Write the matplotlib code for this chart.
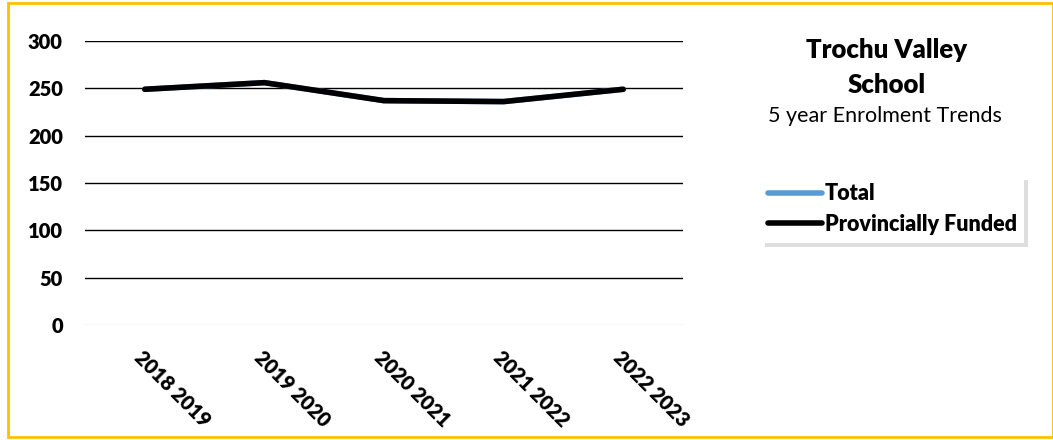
import matplotlib
matplotlib.use("Agg")
import matplotlib.pyplot as plt
from matplotlib.patches import Rectangle

years = ['2018 2019', '2019 2020', '2020 2021', '2021 2022', '2022 2023']
total = [249, 256, 237, 236, 249]
funded = [249, 256, 237, 236, 249]

plt.rcParams['font.family'] = ['Lato', 'DejaVu Sans']
BOLD = 'heavy'

fig = plt.figure(figsize=(10.53, 4.4), dpi=100)
ax = fig.add_axes([85 / 1053, 1 - 325 / 440, 598 / 1053, 284 / 440])

x = range(len(years))
ax.plot(x, total, color='#5B9BD5', lw=4, label='Total', solid_capstyle='round')
ax.plot(x, funded, color='black', lw=4, label='Provincially Funded', solid_capstyle='round')

ax.set_xlim(-0.5, len(years) - 0.5)
ax.set_ylim(0, 300)
ax.set_yticks(range(0, 301, 50))
ax.set_xticks(list(x))
ax.set_xticklabels(years, rotation=-45, ha='left', va='top', rotation_mode='anchor',
                   fontsize=14.5, fontweight=BOLD)
ax.tick_params(axis='y', length=0, pad=16, labelsize=14.5)
ax.tick_params(axis='x', length=0, pad=16)
for t in ax.get_yticklabels():
    t.set_fontweight(BOLD)
for s in ax.spines.values():
    s.set_visible(False)
for v in range(50, 301, 50):
    ax.axhline(v, color='black', lw=1.0, zorder=0)
ax.axhline(0, color='#D9D9D9', lw=1.0, zorder=0)

fig.text(887 / 1053, 1 - 50 / 440, 'Trochu Valley', ha='center', va='center',
         fontsize=18.5, fontweight=BOLD)
fig.text(887 / 1053, 1 - 85 / 440, 'School', ha='center', va='center',
         fontsize=18.5, fontweight=BOLD)
fig.text(885 / 1053, 1 - 116 / 440, '5 year Enrolment Trends', ha='center', va='center',
         fontsize=15.5)

leg = fig.legend(loc='upper left', bbox_to_anchor=(750 / 1053, 1 - 165 / 440),
                 frameon=True, shadow={'color': '#BFBFBF', 'ox': 3, 'oy': -3},
                 fancybox=False, handlelength=2.5,
                 handletextpad=0.12, borderpad=0.35, labelspacing=0.45,
                 prop={'weight': BOLD, 'size': 15.5})
leg.get_frame().set_edgecolor('white')
leg.get_frame().set_linewidth(0)

fig.patches.append(Rectangle((8 / 1053, 3 / 440), 1 - 8 / 1053, 1 - 6 / 440,
                             transform=fig.transFigure, fill=False,
                             edgecolor='#FFC000', lw=2))

fig.savefig('out.png', dpi=100)
